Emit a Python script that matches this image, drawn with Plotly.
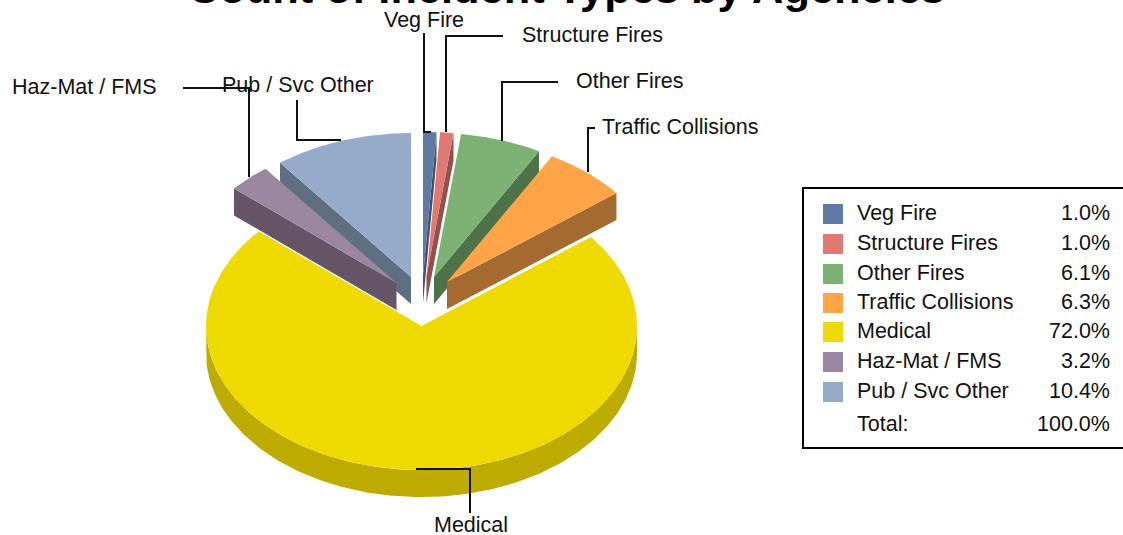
import numpy as np
import plotly.graph_objects as go

categories = ["Veg Fire", "Structure Fires", "Other Fires", "Traffic Collisions",
              "Medical", "Haz-Mat / FMS", "Pub / Svc Other"]
values = [1.0, 1.0, 6.1, 6.3, 72.0, 3.2, 10.4]
value_labels = ["1.0%", "1.0%", "6.1%", "6.3%", "72.0%", "3.2%", "10.4%"]
total_label = "100.0%"
top_colors = ["#5F7BA5", "#E17973", "#7DB274", "#FFA548", "#EFDA00", "#9C87A3", "#95ABC9"]
side_colors = ["#3F5270", "#95504D", "#4E734B", "#A46A2F", "#BEAB00", "#655567", "#5F6F82"]
explode_dx = [1.5, 5, 12.5, 25.5, 0, -25, -10.5]
explode_dy = [-50, -50, -49, -44, 0, -43, -49]
cut_edge = ["end", "end", "end", "end", None, "start", "start"]
draw_order = [0, 1, 2, 3, 6, 5, 4]

label_x = [424, 522, 576, 602, 434, 12, 222]
label_y = [20, 35, 81, 127, 525, 87, 85]
label_anchor = ["center", "left", "left", "left", "left", "left", "left"]
leader_x = [[424, 424, 431], [503, 446, 446], [558, 502, 502], [595, 588, 588],
            [416, 470, 470], [183, 249, 249], [297, 297, 341]]
leader_y = [[33, 132, 132], [36, 36, 132], [82, 82, 141], [128, 128, 172],
            [469, 469, 513], [88, 88, 177], [100, 140, 140]]
legend_y = [214, 244, 274, 303, 332, 362, 392]

CX, CY, RX, RY, DEPTH = 421.5, 326, 215.5, 144, 27
FONT = "Liberation Sans"
TXT = 21.5


def rim(theta_deg, ax, ay):
    t = np.radians(theta_deg)
    return ax + RX * np.sin(t), ay - RY * np.cos(t)


fig = go.Figure()


def poly(x, y, color):
    fig.add_trace(go.Scatter(x=np.append(x, x[0]), y=np.append(y, y[0]), mode="lines",
                             fill="toself", fillcolor=color, line=dict(width=0),
                             hoverinfo="skip", showlegend=False))


ends = np.cumsum(values) * 3.6
starts = np.concatenate([[0], ends[:-1]])
for i in draw_order:
    ax, ay = CX + explode_dx[i], CY + explode_dy[i]
    if cut_edge[i]:
        edge = ends[i] if cut_edge[i] == "end" else starts[i]
        ex, ey = rim(edge, ax, ay)
        poly(np.array([ax, ex, ex, ax]), np.array([ay, ey, ey + DEPTH, ay + DEPTH]), side_colors[i])
    else:
        th = np.linspace(90, 270, 160)
        rx, ry = rim(th, ax, ay)
        poly(np.concatenate([rx, rx[::-1]]), np.concatenate([ry, ry[::-1] + DEPTH]), side_colors[i])
    th = np.linspace(starts[i], ends[i], max(int(values[i] * 6), 8))
    wx, wy = rim(th, ax, ay)
    poly(np.concatenate([[ax], wx]), np.concatenate([[ay], wy]), top_colors[i])

for lx, ly in zip(leader_x, leader_y):
    fig.add_trace(go.Scatter(x=lx, y=ly, mode="lines", line=dict(color="#111111", width=2),
                             hoverinfo="skip", showlegend=False))

annots = [dict(x=566.5, y=12, text="<b>Count of Incident Types by Agencies</b>", xanchor="center",
               yanchor="bottom", font=dict(size=43.4, family=FONT, color="#000000"))]
for name, x, y, anc in zip(categories, label_x, label_y, label_anchor):
    annots.append(dict(x=x, y=y, text=name, xanchor=anc, yanchor="middle",
                       font=dict(size=TXT, family=FONT, color="#111111")))
shapes = [dict(type="rect", x0=803, x1=1130, y0=188, y1=448, line=dict(color="#000000", width=2),
               fillcolor="#FFFFFF", layer="below")]
for name, val, y, col in zip(categories, value_labels, legend_y, top_colors):
    shapes.append(dict(type="rect", x0=823, x1=843, y0=y - 10, y1=y + 10, line=dict(width=0), fillcolor=col))
    annots.append(dict(x=857, y=y - 1, text=name, xanchor="left", yanchor="middle",
                       font=dict(size=TXT, family=FONT, color="#111111")))
    annots.append(dict(x=1110, y=y - 1, text=val, xanchor="right", yanchor="middle",
                       font=dict(size=TXT, family=FONT, color="#111111")))
annots.append(dict(x=857, y=424, text="Total:", xanchor="left", yanchor="middle",
                   font=dict(size=TXT, family=FONT, color="#111111")))
annots.append(dict(x=1110, y=424, text=total_label, xanchor="right", yanchor="middle",
                   font=dict(size=TXT, family=FONT, color="#111111")))
for a in annots:
    a.update(showarrow=False, xref="x", yref="y", borderpad=0, borderwidth=0)

fig.update_layout(width=1123, height=535, margin=dict(l=0, r=0, t=0, b=0),
                  paper_bgcolor="#FFFFFF", plot_bgcolor="#FFFFFF", showlegend=False,
                  annotations=annots, shapes=shapes,
                  xaxis=dict(range=[0, 1123], visible=False, fixedrange=True),
                  yaxis=dict(range=[535, 0], visible=False, fixedrange=True))
fig.write_html("out.html", post_script="document.body.style.margin='0';document.body.style.overflow='hidden';",
               config=dict(displayModeBar=False))
